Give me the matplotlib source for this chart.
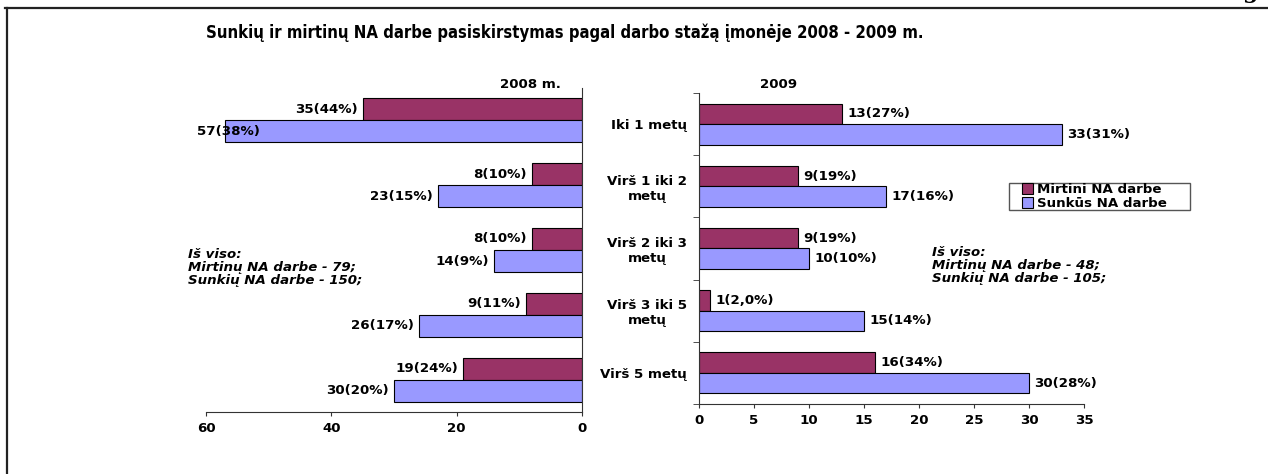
import matplotlib
matplotlib.use("Agg")
import matplotlib.pyplot as plt
from matplotlib.patches import Patch, Rectangle
from matplotlib.lines import Line2D
import numpy as np

# Duomenys
kategorijos = ["Iki 1 metų", "Virš 1 iki 2\nmetų", "Virš 2 iki 3\nmetų",
               "Virš 3 iki 5\nmetų", "Virš 5 metų"]
mirtini_2008 = [35, 8, 8, 9, 19]
mirtini_2008_proc = ["44%", "10%", "10%", "11%", "24%"]
sunkus_2008 = [57, 23, 14, 26, 30]
sunkus_2008_proc = ["38%", "15%", "9%", "17%", "20%"]
mirtini_2009 = [13, 9, 9, 1, 16]
mirtini_2009_proc = ["27%", "19%", "19%", "2,0%", "34%"]
sunkus_2009 = [33, 17, 10, 15, 30]
sunkus_2009_proc = ["31%", "16%", "10%", "14%", "28%"]

c_mirt = "#993366"
c_sunk = "#9999FF"
fs = 9.6
W, H = 1268, 474

fig = plt.figure(figsize=(W / 100, H / 100), dpi=100)
plt.rcParams["font.family"] = "DejaVu Sans"


def fx(px):
    return px / W


def fy(py):
    return 1 - py / H


y = np.arange(len(kategorijos))

# 2008 - kairysis grafikas
ax1 = fig.add_axes([fx(206), fy(412), fx(582 - 206), (412 - 88) / H])
h1 = 0.34
ax1.barh(y - h1 / 2, mirtini_2008, height=h1, color=c_mirt, edgecolor="black", linewidth=0.8)
ax1.barh(y + h1 / 2, sunkus_2008, height=h1, color=c_sunk, edgecolor="black", linewidth=0.8)
ax1.set_xlim(60, 0)
ax1.set_ylim(4.5, -0.5)
ax1.set_xticks([60, 40, 20, 0])
ax1.set_yticks([])
for s in ["top", "left"]:
    ax1.spines[s].set_visible(False)
for s in ["right", "bottom"]:
    ax1.spines[s].set_color("#333333")
ax1.tick_params(axis="x", length=3, pad=4, colors="#333333", labelcolor="black")
for lab in ax1.get_xticklabels():
    lab.set_fontweight("bold")
    lab.set_fontsize(fs)

for i in range(len(kategorijos)):
    for val, pr, off in [(mirtini_2008[i], mirtini_2008_proc[i], -h1 / 2),
                         (sunkus_2008[i], sunkus_2008_proc[i], h1 / 2)]:
        txt = f"{val}({pr})"
        if val > 52:
            ax1.annotate(txt, (60, y[i] + off), xytext=(-6.5, 0), textcoords="offset points",
                         ha="left", va="center", fontsize=fs, fontweight="bold")
        else:
            ax1.annotate(txt, (val, y[i] + off), xytext=(-3.6, 0), textcoords="offset points",
                         ha="right", va="center", fontsize=fs, fontweight="bold")

# 2009 - dešinysis grafikas
ax2 = fig.add_axes([fx(699), fy(404), fx(1084 - 699), (404 - 93) / H])
h2 = 0.33
ax2.barh(y - h2 / 2, mirtini_2009, height=h2, color=c_mirt, edgecolor="black", linewidth=0.8)
ax2.barh(y + h2 / 2, sunkus_2009, height=h2, color=c_sunk, edgecolor="black", linewidth=0.8)
ax2.set_xlim(0, 35)
ax2.set_ylim(4.5, -0.5)
ax2.set_xticks(np.arange(0, 36, 5))
ax2.set_yticks(y)
ax2.set_yticklabels(kategorijos, fontsize=fs, fontweight="bold")
for lab in ax2.get_yticklabels():
    lab.set_multialignment("center")
ax2.set_yticks(np.arange(-0.5, 5, 1), minor=True)
ax2.tick_params(axis="y", which="major", length=0, pad=8.6)
ax2.tick_params(axis="y", which="minor", length=4, color="#333333")
for s in ["top", "right"]:
    ax2.spines[s].set_visible(False)
for s in ["left", "bottom"]:
    ax2.spines[s].set_color("#333333")
ax2.tick_params(axis="x", length=3, pad=4, colors="#333333", labelcolor="black")
for lab in ax2.get_xticklabels():
    lab.set_fontweight("bold")
    lab.set_fontsize(fs)

for i in range(len(kategorijos)):
    for val, pr, off in [(mirtini_2009[i], mirtini_2009_proc[i], -h2 / 2),
                         (sunkus_2009[i], sunkus_2009_proc[i], h2 / 2)]:
        ax2.annotate(f"{val}({pr})", (val, y[i] + off), xytext=(3.6, 0), textcoords="offset points",
                     ha="left", va="center", fontsize=fs, fontweight="bold")

# Antraštės
fig.text(fx(565), fy(33), "Sunkių ir mirtinų NA darbe pasiskirstymas pagal darbo stažą įmonėje 2008 - 2009 m.",
         ha="center", va="center", fontsize=12, fontweight="bold", fontstretch="condensed")
fig.text(fx(530), fy(85), "2008 m.", ha="center", va="center", fontsize=fs, fontweight="bold")
fig.text(fx(779), fy(85), "2009", ha="center", va="center", fontsize=fs, fontweight="bold")

# Suvestinės
fig.text(fx(188), fy(248), "Iš viso:\nMirtinų NA darbe - 79;\nSunkių NA darbe - 150;",
         ha="left", va="top", fontsize=fs, fontweight="bold", style="italic", linespacing=1.0)
fig.text(fx(932), fy(246), "Iš viso:\nMirtinų NA darbe - 48;\nSunkių NA darbe - 105;",
         ha="left", va="top", fontsize=fs, fontweight="bold", style="italic", linespacing=1.0)

# Legenda
fig.patches.append(Rectangle((fx(1009), fy(210)), fx(1190 - 1009), (210 - 183) / H,
                             transform=fig.transFigure, fill=False, edgecolor="#555555", linewidth=1))
handles = [Patch(facecolor=c_mirt, edgecolor="black", linewidth=0.8, label="Mirtini NA darbe"),
           Patch(facecolor=c_sunk, edgecolor="black", linewidth=0.8, label="Sunkūs NA darbe")]
fig.legend(handles=handles, loc="center left", bbox_to_anchor=(fx(1022), fy(196.5)),
           frameon=False, prop={"size": fs, "weight": "bold"}, handlelength=0.85, handleheight=0.85,
           handletextpad=0.25, labelspacing=0.05, borderpad=0, borderaxespad=0)

# Rėmelis
fig.add_artist(Line2D([fx(5), 1], [fy(7.5), fy(7.5)], transform=fig.transFigure, color="#222222", linewidth=1.6))
fig.add_artist(Line2D([fx(7), fx(7)], [fy(7.5), 0], transform=fig.transFigure, color="#222222", linewidth=1.6))
fig.text(fx(1250), fy(3), "g", ha="center", va="bottom", fontsize=16, fontweight="bold", family="DejaVu Serif")

fig.savefig("out.png", dpi=100)
